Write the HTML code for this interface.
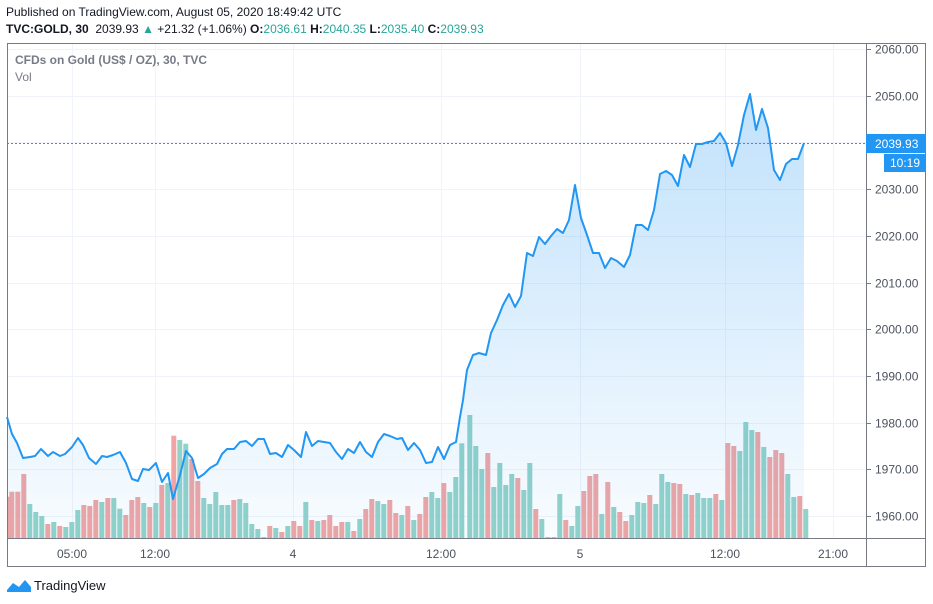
<!DOCTYPE html>
<html><head><meta charset="utf-8"><style>
body{margin:0;background:#fff;width:933px;height:604px;overflow:hidden;font-family:"Liberation Sans",sans-serif;}
.t{position:absolute;white-space:nowrap;font-size:12px;color:#131722}
</style></head><body>
<div class="t" style="left:6px;top:5px;">Published on TradingView.com, August 05, 2020 18:49:42 UTC</div>
<div class="t" style="left:6px;top:22px;"><b>TVC:GOLD, 30</b>&nbsp; 2039.93 <span style="color:#26a69a">▲</span> +21.32 (+1.06%) <b>O:</b><span style="color:#26a69a">2036.61</span> <b>H:</b><span style="color:#26a69a">2040.35</span> <b>L:</b><span style="color:#26a69a">2035.40</span> <b>C:</b><span style="color:#26a69a">2039.93</span></div>
<svg id="s" width="933" height="604" style="position:absolute;left:0;top:0" xmlns="http://www.w3.org/2000/svg">
<defs><linearGradient id="g" x1="0" y1="0" x2="0" y2="1"><stop offset="0" stop-color="#2196f3" stop-opacity="0.28"/><stop offset="1" stop-color="#2196f3" stop-opacity="0.03"/></linearGradient>
<clipPath id="c"><rect x="8" y="44" width="858" height="494"/></clipPath></defs>
<g id="grid" stroke="#f0f3fa" stroke-width="1"></g>
<g id="bars" clip-path="url(#c)"></g>
<path id="area" fill="url(#g)"/>
<polyline id="line" fill="none" stroke="#2196f3" stroke-width="2" stroke-linejoin="round"/>
<line x1="7" y1="143.5" x2="866" y2="143.5" stroke="#2196f3" stroke-dasharray="2,2" stroke-width="1"/>
<rect x="7.5" y="43.5" width="918" height="523" fill="none" stroke="#787b86"/>
<line x1="866.5" y1="43" x2="866.5" y2="567" stroke="#787b86"/>
<line x1="7" y1="538.5" x2="926" y2="538.5" stroke="#787b86"/>
<g id="ax" font-family="Liberation Sans, sans-serif" font-size="12" fill="#4c525e"></g>
<rect x="866" y="134" width="60" height="19" fill="#2196f3"/>
<rect x="884" y="154" width="42" height="18" fill="#2196f3"/>
<text x="875" y="148" font-family="Liberation Sans, sans-serif" font-size="12" fill="#fff">2039.93</text>
<text x="890" y="167" font-family="Liberation Sans, sans-serif" font-size="12" fill="#fff">10:19</text>
<g transform="translate(7,578)"><path d="M0 12 L6 5 L12 9 L18 2 L24 9 L24 14 L0 14Z" fill="#2196f3"/></g>
<text x="34" y="590" font-family="Liberation Sans, sans-serif" font-size="13" fill="#131722">TradingView</text>
<text x="15" y="64" font-family="Liberation Sans, sans-serif" font-size="12" font-weight="bold" fill="#787b86">CFDs on Gold (US$ / OZ), 30, TVC</text>
<text x="15" y="81" font-family="Liberation Sans, sans-serif" font-size="12" fill="#787b86">Vol</text>
</svg>
<script>
var NS="http://www.w3.org/2000/svg";
function el(t,a,p){var e=document.createElementNS(NS,t);for(var k in a)e.setAttribute(k,a[k]);document.getElementById(p).appendChild(e);return e;}
function Y(p){return 516-(p-1960)*4.67;}
for(var p=1960;p<=2060;p+=10){var y=Math.round(Y(p))+0.5;el('line',{x1:7,x2:866,y1:y,y2:y},'grid');el('line',{x1:866,x2:871,y1:y,y2:y,stroke:'#787b86'},'ax');var t=el('text',{x:875,y:y+4},'ax');t.textContent=p.toFixed(2);}
var vx=[[72,'05:00'],[155,'12:00'],[293,'4'],[441,'12:00'],[580,'5'],[725,'12:00'],[833,'21:00']];
vx.forEach(function(v){el('line',{x1:v[0]+.5,x2:v[0]+.5,y1:43,y2:538},'grid');var t=el('text',{x:v[0],y:558,'text-anchor':'middle'},'ax');t.textContent=v[1];});
var L=[[7,417],[12,434],[17,443],[23,458],[30,457],[35,456],[41,449],[48,456],[53,452],[60,456],[65,454],[72,447],[78,438],[83,445],[89,458],[96,464],[102,456],[107,457],[113,455],[120,452],[126,463],[132,479],[138,481],[143,469],[149,470],[156,463],[162,482],[168,473],[173,499],[180,475],[186,451],[192,458],[198,478],[204,474],[210,468],[217,464],[222,454],[227,449],[234,449],[240,442],[246,441],[252,446],[258,439],[264,439],[270,454],[276,453],[282,457],[288,445],[294,450],[301,457],[306,432],[312,446],[318,441],[324,442],[330,443],[336,452],[342,459],[348,449],[354,453],[360,442],[366,452],[372,457],[378,442],[384,434],[390,436],[397,439],[402,438],[408,450],[414,443],[420,450],[426,463],[432,462],[438,447],[444,459],[450,445],[456,442],[460,417],[463,400],[467,370],[473,355],[479,353],[486,355],[491,333],[497,320],[503,305],[509,294],[515,307],[521,296],[527,253],[533,256],[539,237],[545,244],[551,236],[557,229],[563,233],[569,220],[575,185],[581,218],[587,235],[593,253],[599,253],[605,268],[611,258],[617,261],[624,267],[630,255],[636,225],[642,225],[648,230],[654,210],[660,174],[666,171],[672,175],[678,186],[684,155],[690,167],[696,144],[702,144],[708,142],[714,141],[720,133],[726,143],[732,166],[738,145],[744,115],[750,94],[756,130],[762,109],[768,128],[774,170],[780,180],[786,164],[792,159],[798,159],[804,143]];
var pts=L.map(function(a){return a.join(',')}).join(' ');
document.getElementById('line').setAttribute('points',pts);
document.getElementById('area').setAttribute('d','M7,538 L'+pts.replace(/ /g,' L')+' L804,538Z');
var B1="22:290r,28:275r,46:275r,64:222r,82:312g,100:336g,118:348g,136:372r,154:366g,172:378r,190:381g,208:366g,226:330g,244:315r,262:318r,280:300r,298:306g,316:294r,334:294g,352:326g,370:345r,388:300r,406:291r,424:309g,442:321r,460:309g,478:255r,496:249g,514:107r,532:120g,550:131g,568:177r,586:243r,604:294g,622:312g,640:276g,658:315g,676:315g,694:300r,712:297g,730:309g,748:372g,766:387g,784:411g,802:378r,820:384g,838:396r,856:378g,874:363r,892:378r,910:306g,928:360r,946:363g,964:360r,982:345r,1000:378r,1018:366r,1036:366g,1054:393r,1072:357g,1090:327r,1108:297r,1126:303g,1144:312g,1162:300r,1180:339r,1198:345g,1216:318r,1234:360g,1252:342r,1270:291r,1288:276g,1306:294g,1324:249r,1342:276g,1360:231g,1378:130g";
var B2="82:45g,100:138g,118:207g,136:159r,154:261g,172:189g,190:255g,208:222g,226:234r,244:270g,262:189g,280:327r,298:357g,316:411g,334:411g,352:282g,370:360r,388:378g,406:318g,424:273r,442:228r,460:222r,478:342g,496:246r,514:321g,532:336r,550:363r,568:345g,586:306g,604:309g,622:285r,640:312g,658:222g,676:246g,694:249r,712:252r,730:282g,748:285r,766:279g,784:294g,802:294g,820:282r,838:300g,856:129r,874:138r,892:153g,910:66g,928:90g,946:96r,964:141g,982:171r,1000:150r,1018:159r,1036:222g,1054:291g,1072:288r,1090:327g";
function bars(s,ox){s.split(',').forEach(function(b){var m=b.match(/(\d+):(\d+)([rg])/);var x=ox+(+m[1])/3, y=400+(+m[2])/3;el('rect',{x:x.toFixed(1),y:y.toFixed(1),width:5,height:(538-y).toFixed(1),fill:m[3]=='r'?'#f0a5a4':'#92d2c9'},'bars');});}
bars(B1,0);bars(B2,440);
</script>
</body></html>
